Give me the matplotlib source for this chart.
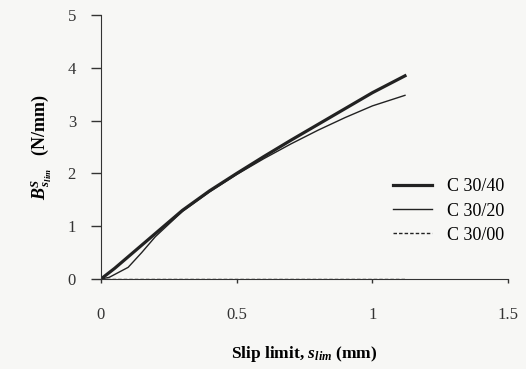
import numpy as np
import matplotlib.pyplot as plt

plt.rcParams['font.family'] = ['Liberation Serif', 'DejaVu Serif']
plt.rcParams['mathtext.fontset'] = 'custom'
plt.rcParams['mathtext.rm'] = 'Liberation Serif'
plt.rcParams['mathtext.it'] = 'Liberation Serif:italic'
plt.rcParams['mathtext.bf'] = 'Liberation Serif:bold'
plt.rcParams['mathtext.bfit'] = 'Liberation Serif:bold:italic'

# slip limit (mm) and bond stiffness (N/mm) for each mix
slip_40 = [0.0, 0.05, 0.1, 0.2, 0.3, 0.4, 0.5, 0.6, 0.7, 0.8, 0.9, 1.0, 1.12]
stiff_40 = [0.0, 0.2, 0.42, 0.86, 1.3, 1.67, 2.0, 2.32, 2.63, 2.93, 3.23, 3.53, 3.85]

slip_20 = [0.0, 0.03, 0.1, 0.15, 0.2, 0.3, 0.4, 0.5, 0.6, 0.7, 0.8, 0.9, 1.0, 1.12]
stiff_20 = [0.0, 0.03, 0.22, 0.5, 0.8, 1.28, 1.65, 1.98, 2.28, 2.56, 2.82, 3.06, 3.28, 3.48]

slip_00 = [0.0, 1.12]
stiff_00 = [0.0, 0.0]

bg = '#f7f7f5'
fig = plt.figure(figsize=(5.26, 3.69), dpi=100, facecolor=bg)
ax = fig.add_axes([0.192, 0.244, 0.774, 0.715], facecolor=bg)

ax.plot(slip_40, stiff_40, color='#222222', lw=2.3, label='C 30/40')
ax.plot(slip_20, stiff_20, color='#222222', lw=1.0, label='C 30/20')
ax.plot(slip_00, stiff_00, color='#222222', lw=1.0, ls=(0, (2.5, 1.5)), label='C 30/00')

ax.set_xlim(0, 1.5)
ax.set_ylim(0, 5)
ax.set_xticks([0, 0.5, 1, 1.5])
ax.set_xticklabels(['0', '0.5', '1', '1.5'])
ax.set_yticks([0, 1, 2, 3, 4, 5])
for s in ['top', 'right']:
    ax.spines[s].set_visible(False)
for s in ['left', 'bottom']:
    ax.spines[s].set_color('#333333')
ax.tick_params(labelsize=12, direction='out', colors='#333333', width=1)
ax.tick_params(axis='y', length=7, pad=11)
ax.tick_params(axis='x', length=3, pad=17)

ax.set_xlabel(r'Slip limit, $\mathbfit{s}_{\mathbfit{lim}}$ (mm)', fontsize=12.5, fontweight='bold', labelpad=15)
ax.set_ylabel(r'$\mathbfit{B}^{\mathbfit{S}}_{\,\mathbfit{s}_{\mathbfit{lim}}}$   (N/mm)', fontsize=13, fontweight='bold', labelpad=10)

ax.legend(loc='upper left', bbox_to_anchor=(0.678, 0.443), frameon=False, fontsize=13,
          handlelength=2.15, labelspacing=0.4, handletextpad=0.8)

fig.savefig('out.png', dpi=100, facecolor=bg)
